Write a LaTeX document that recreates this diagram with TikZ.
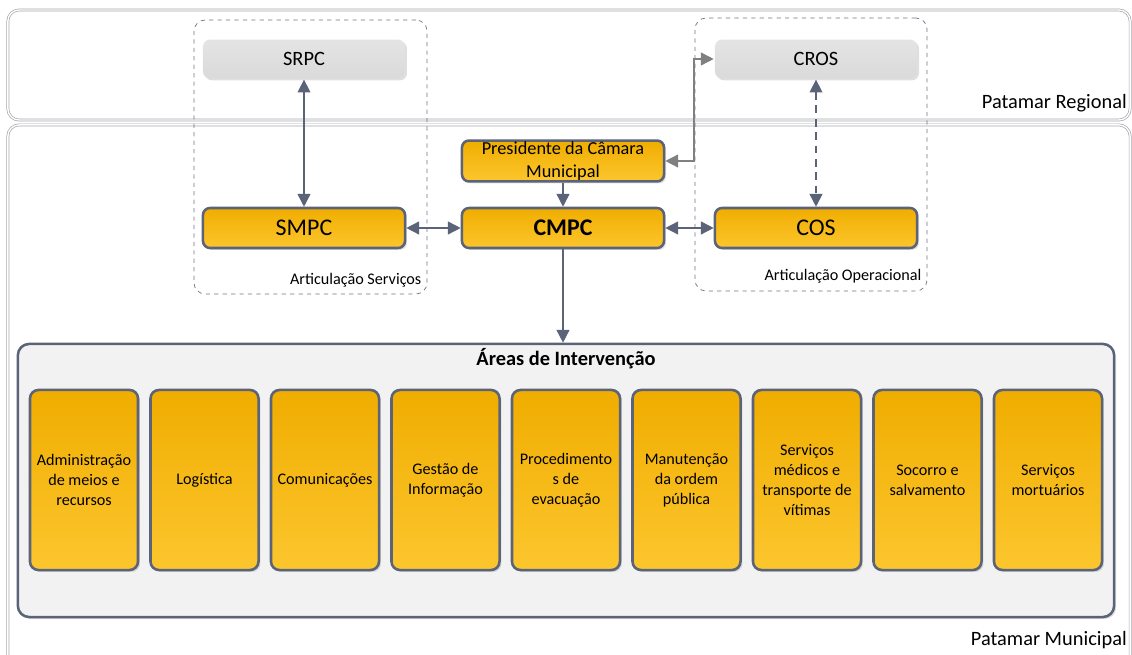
\documentclass[tikz,border=0pt]{standalone}
\usepackage{fontspec}
\setmainfont{Carlito}
\usepackage{tikz}
\usetikzlibrary{positioning,arrows.meta,calc,shadows}
\definecolor{pcslate}{HTML}{5A6378}
\definecolor{pctop}{HTML}{F0AD00}
\definecolor{pcbot}{HTML}{FCC62E}
\definecolor{pcgrey}{HTML}{DADADA}
\definecolor{pcgreytop}{HTML}{E4E4E4}
\definecolor{pcpanel}{HTML}{F2F2F2}
\definecolor{pcframe}{HTML}{A6A8AE}
\definecolor{pcdash}{HTML}{6F7485}
\definecolor{pcline}{HTML}{808080}
\newcommand{\fsz}[2]{\fontsize{#1}{#2}\selectfont}
\tikzset{
  patamar/.style={draw=pcframe,double=white,double distance=1pt,line width=0.5pt,rounded corners=8pt},
  grp/.style={draw=pcdash,dashed,line width=0.5pt,rounded corners=8pt},
  org/.style={draw=pcslate,line width=1.8pt,rounded corners=5pt,top color=pctop,bottom color=pcbot,
    minimum width=5.05cm,minimum height=1cm,inner sep=1pt,align=center,font=\fsz{17}{20},
    drop shadow={shadow xshift=1.4pt,shadow yshift=-1.4pt,opacity=0.25}},
  reg/.style={org,draw=none,top color=pcgreytop,bottom color=pcgrey,font=\fsz{14.5}{17},minimum height=0.97cm},
  pres/.style={org,font=\fsz{13}{16}},
  panel/.style={draw=pcslate,line width=1.8pt,rounded corners=8pt,fill=pcpanel,
    minimum width=27.4cm,minimum height=6.825cm,
    drop shadow={shadow xshift=1.4pt,shadow yshift=-1.4pt,opacity=0.25}},
  area/.style={org,minimum width=2.7cm,minimum height=4.5cm,font=\fsz{11.5}{14.2},rounded corners=6pt},
  tag/.style={font=\fsz{11.5}{14},inner sep=1pt},
  lnk/.style={{Triangle[length=3.2mm,width=3.2mm]}-{Triangle[length=3.2mm,width=3.2mm]},line width=1.1pt,draw=pcslate},
  lnk1/.style={-{Triangle[length=3.2mm,width=3.2mm]},line width=1.1pt,draw=pcslate},
  lnkgrey/.style={{Triangle[length=3.2mm,width=3.2mm]}-{Triangle[length=3.2mm,width=3.2mm]},line width=1.1pt,draw=pcline},
}
\begin{document}
\begin{tikzpicture}[x=0.025cm,y=-0.025cm]
  \useasboundingbox (0,0) rectangle (1132,655);
  \begin{scope}
  \clip (0,0) rectangle (1132,655);
  % the two levels
  \node[patamar,minimum width=28.05cm,minimum height=2.75cm] (regional) at (569,65) {};
  \node[patamar,minimum width=28.05cm,minimum height=13.6cm] (municipal) at (569,397) {};
  \end{scope}
  \node[anchor=east,font=\fsz{14.5}{17},inner sep=0pt] (lblreg) at (1127,103) {Patamar Regional};
  \node[anchor=east,font=\fsz{14.5}{17},inner sep=0pt] (lblmun) at (1127,640) {Patamar Municipal};

  \node[grp,minimum width=5.825cm,minimum height=6.85cm] (artserv) at (310.5,157) {};
  \node[grp,minimum width=5.8cm,minimum height=6.825cm] (artop) at (811,154.5) {};
  \node[tag,anchor=east] (lblserv) at (423,280) {Articulação Serviços};
  \node[tag,anchor=east] (lblop) at (923,276) {Articulação Operacional};

  \node[reg] (srpc) at (304,59) {SRPC};
  \node[reg] (cros) at (816,59) {CROS};
  \node[pres] (pres) at (563,161) {Presidente da Câmara\\Municipal};
  \node[org] (smpc) at (304,228) {SMPC};
  \node[org,font=\fsz{17}{20}\bfseries] (cmpc) at (563,228) {CMPC};
  \node[org] (cos) at (816,228) {COS};

  % intervention areas
  \node[panel] (areas) at (566,480.5) {};
  \node[font=\fsz{14.5}{17}\bfseries] (areastitle) at (566,359) {Áreas de Intervenção};
  \foreach \i/\txt in {1/{Administração\\de meios e\\recursos},2/{Logística},3/{Comunicações},
      4/{Gestão de\\Informação},5/{Procedimento\\s de\\evacuação},6/{Manutenção\\da ordem\\pública},
      7/{Serviços\\médicos e\\transporte de\\vítimas},8/{Socorro e\\salvamento},9/{Serviços\\mortuários}}
    \node[area] (a\i) at ({84+120.5*(\i-1)},480) {\txt};

  \draw[lnk] (srpc)--(smpc); \draw[lnk] (smpc)--(cmpc); \draw[lnk] (cmpc)--(cos);
  \draw[lnk,dash pattern=on 5.5pt off 4pt] (cros)--(cos);
  \draw[lnk1] (pres)--(cmpc);
  \draw[lnk1] (cmpc.south)--(cmpc.south |- areas.north);
  \coordinate (bend) at (694,161);
  \draw[lnkgrey] (pres.east)--(bend)|-(cros.west);
\end{tikzpicture}
\end{document}
